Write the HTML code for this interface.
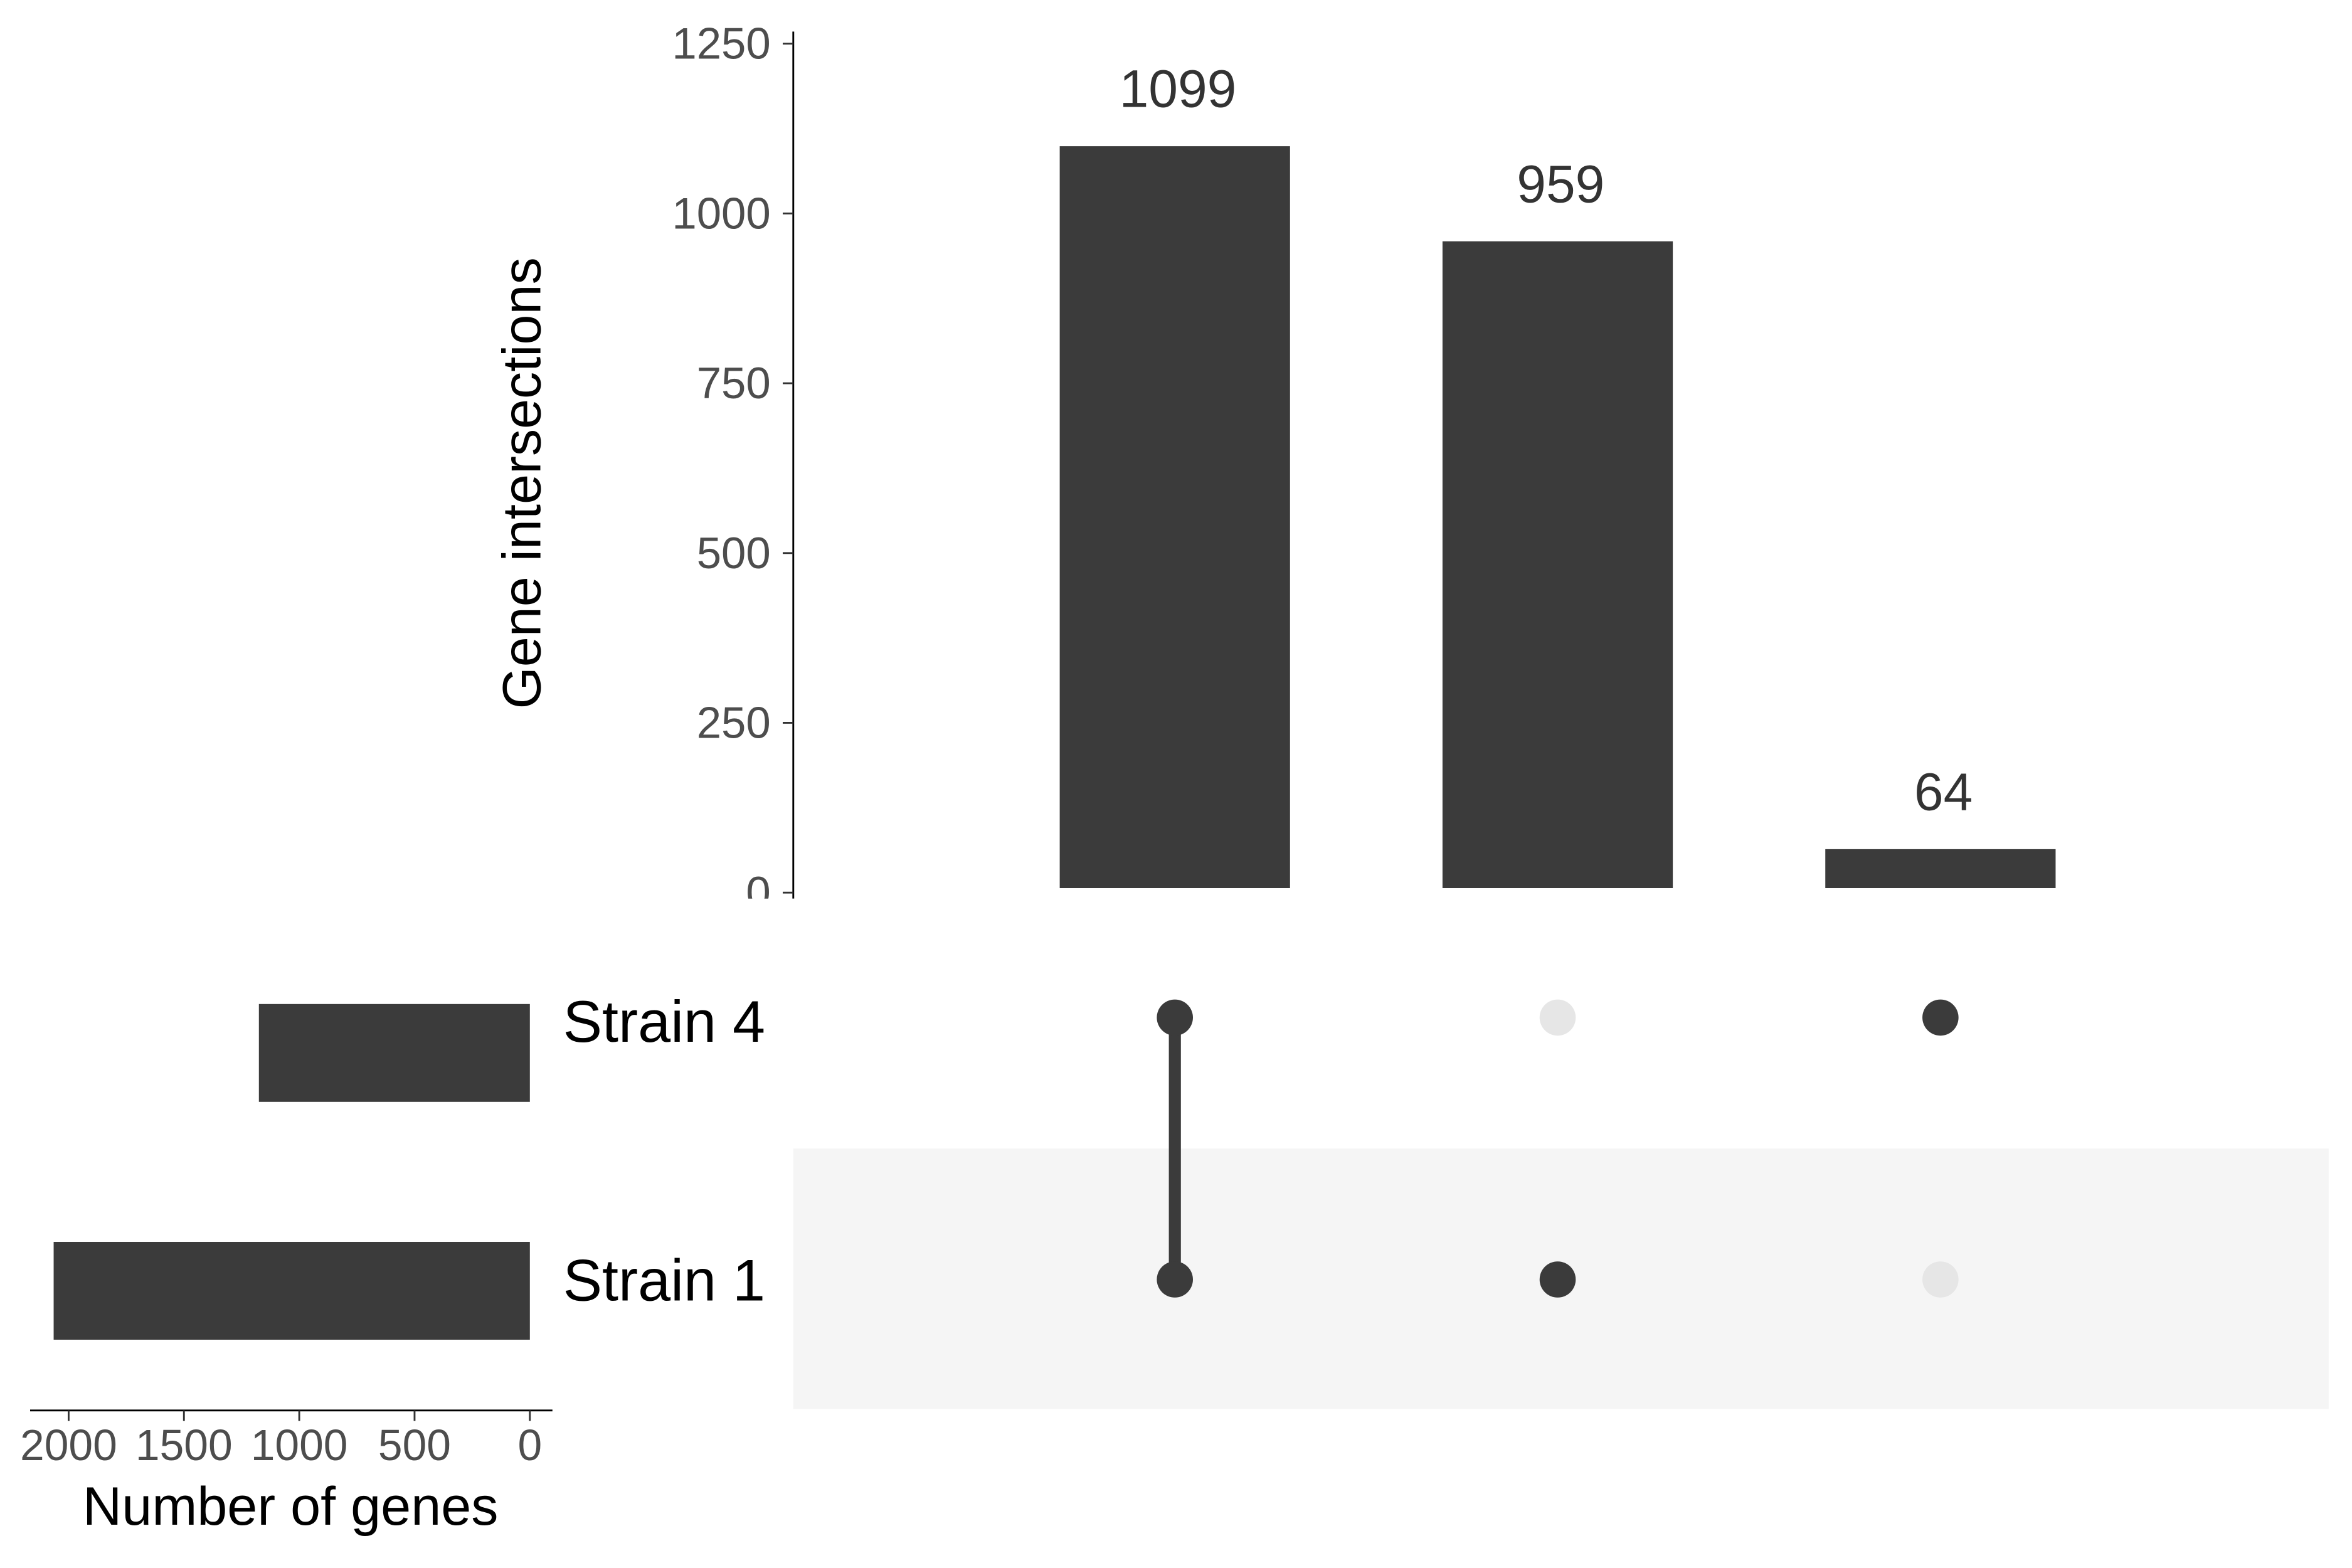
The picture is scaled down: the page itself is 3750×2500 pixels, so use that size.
<!DOCTYPE html>
<html><head><meta charset="utf-8"><style>
html,body{margin:0;padding:0;background:#fff}
svg{display:block}
text{font-family:"Liberation Sans",Arial,sans-serif}
</style></head><body>
<svg id="chart" width="3750" height="2500" viewBox="0 0 1562.5 1041.667" xmlns="http://www.w3.org/2000/svg">
<defs><clipPath id="topclip"><rect x="0" y="0" width="1562.5" height="597"/></clipPath></defs>
<g id="topg" clip-path="url(#topclip)"></g>
<g id="matrix"></g>
<g id="sets"></g>
</svg>
<script>
const intersections = ["Strain 1 & Strain 4", "Strain 1 only", "Strain 4 only"];
const intersectionSizes = [1099, 959, 64];
const yTicks = [0, 250, 500, 750, 1000, 1250];
const setNames = ["Strain 4", "Strain 1"];
const setSizes = [1175, 2065];
const setTicks = [0, 500, 1000, 1500, 2000];
const membership = [[1, 1], [0, 1], [1, 0]];

const NS = "http://www.w3.org/2000/svg";
function mk(tag, attrs, parent, txt) {
  const e = document.createElementNS(NS, tag);
  for (const k in attrs) e.setAttribute(k, attrs[k]);
  if (txt !== undefined) e.textContent = txt;
  parent.appendChild(e);
  return e;
}
const topG = document.getElementById('topg');
const matrixG = document.getElementById('matrix');
const setsG = document.getElementById('sets');
const DARK = "#3b3b3b";

const y = v => 593 - v * (564 / 1250);
const xc = i => 780.5 + i * 254.3;
const barW = 153;
const rowY = i => 676 + i * 174;
const barY = i => 667 + i * 158;
const sx = v => 352 - v * (76.6 / 500);

let ax = mk('line', {x1: 527, y1: 21, x2: 527, y2: 597, stroke: "#000", 'stroke-width': 1.2}, topG);


yTicks.forEach(t => {
  let tk = mk('line', {x1: 520, y1: y(t), x2: 527, y2: y(t), stroke: "#333", 'stroke-width': 1.2}, topG);
  
  
  let lb = mk('text', {x: 512, y: y(t) + 10, 'text-anchor': 'end', 'font-size': 29.5, fill: "#4d4d4d"}, topG, String(t));
  
  
});
let yt = mk('text', {x: 0, y: 0, transform: 'translate(359,321) rotate(-90)', 'text-anchor': 'middle', 'font-size': 36, fill: "#000"}, document.getElementById('chart'), "Gene intersections");



intersectionSizes.forEach((v, i) => {
  let b = mk('rect', {x: xc(i) - barW / 2, y: y(v), width: barW, height: 590 - y(v), fill: DARK}, topG);
  
  
  let l = mk('text', {x: xc(i) + 2, y: y(v) - 26, 'text-anchor': 'middle', 'font-size': 35, fill: "#333"}, topG, String(v));
  
  
});

let sh = mk('rect', {x: 527, y: 763, width: 1020, height: 173, fill: "#f5f5f5"}, matrixG);



membership.forEach((m, i) => {
  const on = m.map((v, r) => v ? r : -1).filter(r => r >= 0);
  if (on.length > 1) {
    let ln = mk('line', {x1: xc(i), y1: rowY(on[0]), x2: xc(i), y2: rowY(on[on.length - 1]), stroke: DARK, 'stroke-width': 8}, matrixG);
    
    
  }
  m.forEach((v, r) => {
    let c = mk('circle', {cx: xc(i), cy: rowY(r), r: 12, fill: v ? DARK : "#e6e6e6"}, matrixG);
    
    
  });
});

setNames.forEach((n, r) => {
  let t = mk('text', {x: 374, y: 692 + r * 172, 'font-size': 39, fill: "#000"}, setsG, n);
  
  
  let b = mk('rect', {x: sx(setSizes[r]), y: barY(r), width: sx(0) - sx(setSizes[r]), height: 65, fill: DARK}, setsG);
  
  
});
let sax = mk('line', {x1: 20, y1: 937, x2: 367, y2: 937, stroke: "#000", 'stroke-width': 1.2}, setsG);


setTicks.forEach(t => {
  let tk = mk('line', {x1: sx(t), y1: 937, x2: sx(t), y2: 944, stroke: "#333", 'stroke-width': 1.2}, setsG);
  
  
  let l = mk('text', {x: sx(t), y: 970, 'text-anchor': 'middle', 'font-size': 29, fill: "#4d4d4d"}, setsG, String(t));
  
  
});
let st = mk('text', {x: 193, y: 1013, 'text-anchor': 'middle', 'font-size': 36, fill: "#000"}, setsG, "Number of genes");


</script>
</body></html>
